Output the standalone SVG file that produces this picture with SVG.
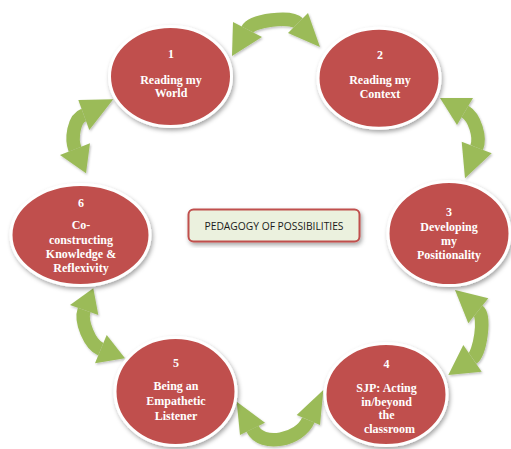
<svg xmlns="http://www.w3.org/2000/svg" width="511" height="449" viewBox="0 0 511 449">
  <defs>
    <filter id="shadow" x="-20%" y="-20%" width="140%" height="140%">
      <feDropShadow dx="1.5" dy="2.5" stdDeviation="2" flood-color="#000" flood-opacity="0.35"/>
    </filter>
    <filter id="soft" x="-20%" y="-20%" width="140%" height="140%">
      <feDropShadow dx="1" dy="1.5" stdDeviation="1.2" flood-color="#000" flood-opacity="0.25"/>
    </filter>
    <style>
      .node ellipse { fill: #c0504d; stroke: #ffffff; stroke-width: 3; filter: url(#shadow); }
      .node text { font-family: "Liberation Serif", "Times New Roman", serif; font-weight: bold; font-size: 12px; fill: #ffffff; text-anchor: middle; }
      .band { fill: none; stroke: #9bbb59; stroke-width: 13.5; stroke-linecap: butt; }
      .head { fill: #9bbb59; }
      #connectors { filter: url(#soft); }
      #hub rect { fill: #ebf1de; stroke: #c0504d; stroke-width: 2; filter: url(#shadow); }
      #hub text { font-family: "Open Sans", "Liberation Sans", Arial, sans-serif; font-size: 11.5px; fill: #1a1a1a; text-anchor: middle; }
    </style>
  </defs>

  <rect width="511" height="449" fill="#ffffff"/>

  <!-- curved two-way arrows between neighbouring stages -->
  <g id="connectors">
    <g id="c12">
      <path class="band" d="M247.5,29.5 C252.3,20.2 290.6,15.6 298,23"/>
      <polygon class="head" points="233,22 262,37 232,56"/>
      <polygon class="head" points="308,13 288,33 320,47"/>
    </g>
    <g id="c23">
      <path class="band" d="M465,111.5 C474.7,117.3 480.8,137 476.7,147.5"/>
      <polygon class="head" points="440,98 473,98 457,125"/>
      <polygon class="head" points="461.7,141.7 491.7,153.3 465,178.3"/>
    </g>
    <g id="c34">
      <path class="band" d="M478.3,310.8 C485.6,316.6 480.1,353 472.5,358.3"/>
      <polygon class="head" points="455,290 488.3,298.3 468.3,323.3"/>
      <polygon class="head" points="463.3,345 481.7,371.7 448.3,375"/>
    </g>
    <g id="c45">
      <path class="band" d="M252.5,428.8 C261.9,448 300,440 308.3,420"/>
      <polygon class="head" points="236.7,401.7 265,422.7 240,435"/>
      <polygon class="head" points="323.3,390 296.7,415 320,425"/>
    </g>
    <g id="c56">
      <path class="band" d="M84.2,310 C80.2,321.3 89.8,344.6 100.8,349.2"/>
      <polygon class="head" points="93.3,288.3 70,305 98.3,315"/>
      <polygon class="head" points="106.7,335 125,358.3 95,363.3"/>
    </g>
    <g id="c61">
      <path class="band" d="M83.8,115 C73.5,118.7 71,139 75,149.2"/>
      <polygon class="head" points="78.3,100 113.3,99.3 89.3,130"/>
      <polygon class="head" points="60,155 90,143.3 86,173.3"/>
    </g>
  </g>

  <!-- stages of the cycle -->
  <g id="node1" class="node">
    <ellipse cx="170.5" cy="76.5" rx="61" ry="50"/>
    <text x="171" y="57.5">1</text>
    <text x="171" y="83.5">Reading my</text>
    <text x="171" y="97">World</text>
  </g>
  <g id="node2" class="node">
    <ellipse cx="379" cy="78.3" rx="61" ry="50"/>
    <text x="380" y="59">2</text>
    <text x="380" y="83.5">Reading my</text>
    <text x="380" y="97.5">Context</text>
  </g>
  <g id="node3" class="node">
    <ellipse cx="449" cy="233.5" rx="61" ry="52"/>
    <text x="449" y="216">3</text>
    <text x="449" y="231">Developing</text>
    <text x="449" y="245">my</text>
    <text x="449" y="259">Positionality</text>
  </g>
  <g id="node4" class="node">
    <ellipse cx="386" cy="394.5" rx="61" ry="51"/>
    <text x="386.5" y="367.5">4</text>
    <text x="386.5" y="391.5">SJP: Acting</text>
    <text x="386.5" y="405.5">in/beyond</text>
    <text x="386.5" y="419">the</text>
    <text x="389.5" y="433">classroom</text>
  </g>
  <g id="node5" class="node">
    <ellipse cx="175.5" cy="391.5" rx="60.5" ry="54"/>
    <text x="176" y="367">5</text>
    <text x="176" y="390">Being an</text>
    <text x="176" y="405">Empathetic</text>
    <text x="176" y="420">Listener</text>
  </g>
  <g id="node6" class="node">
    <ellipse cx="80.5" cy="235" rx="69.5" ry="50.5"/>
    <text x="81" y="207">6</text>
    <text x="81" y="229">Co-</text>
    <text x="81" y="244">constructing</text>
    <text x="81" y="258">Knowledge &amp;</text>
    <text x="81" y="272">Reflexivity</text>
  </g>

  <!-- central title -->
  <g id="hub">
    <rect x="188.5" y="209.5" width="171" height="32" rx="5" ry="5"/>
    <text x="274" y="229.5" textLength="139" lengthAdjust="spacingAndGlyphs">PEDAGOGY OF POSSIBILITIES</text>
  </g>
</svg>
